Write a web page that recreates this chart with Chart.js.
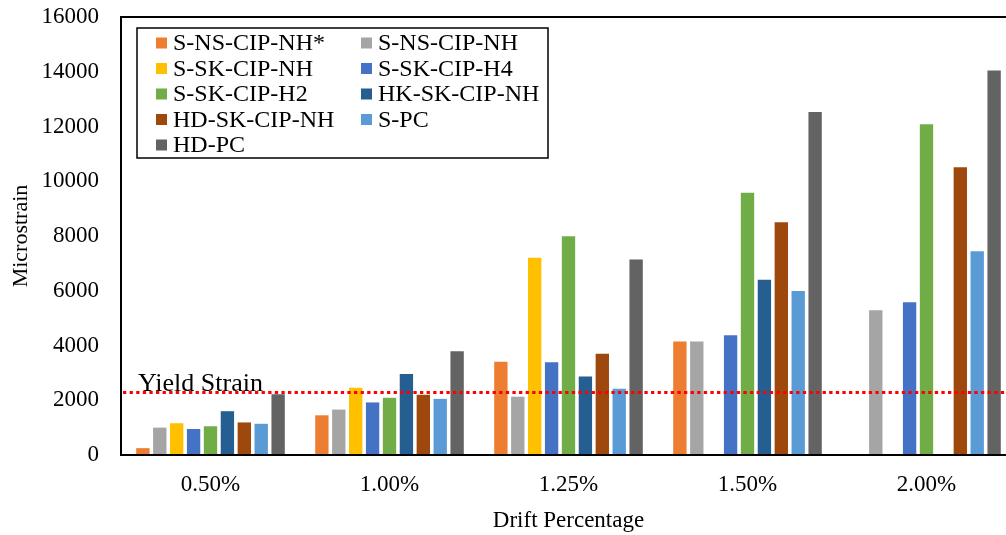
<!DOCTYPE html>
<html>
<head>
<meta charset="utf-8">
<script src="https://cdn.jsdelivr.net/npm/chart.js@4/dist/chart.umd.min.js"></script>
<style>
  html, body { margin: 0; padding: 0; background: #fff; overflow: hidden; }
  #wrap { position: relative; width: 1020px; height: 535px; }
</style>
</head>
<body>
<div id="wrap"><canvas id="c"></canvas></div>
<script>
// Drift levels on the x axis
const driftLabels = ['0.50%', '1.00%', '1.25%', '1.50%', '2.00%'];

// Peak microstrain per specimen at each drift level (null = no reading)
const sNsCipNhStar = [250, 1450, 3410, 4150, null];
const sNsCipNh     = [1000, 1660, 2130, 4150, 5290];
const sSkCipNh     = [1160, 2460, 7210, null, null];
const sSkCipH4     = [950, 1920, 3390, 4370, 5580];
const sSkCipH2     = [1050, 2090, 7990, 9580, 12080];
const hkSkCipNh    = [1600, 2960, 2870, 6400, null];
const hdSkCipNh    = [1190, 2200, 3700, 8500, 10510];
const sPc          = [1140, 2050, 2420, 5990, 7440];
const hdPc         = [2220, 3790, 7140, 12530, 14050];

const seriesNames = ['S-NS-CIP-NH*', 'S-NS-CIP-NH', 'S-SK-CIP-NH', 'S-SK-CIP-H4',
  'S-SK-CIP-H2', 'HK-SK-CIP-NH', 'HD-SK-CIP-NH', 'S-PC', 'HD-PC'];
const seriesData = [sNsCipNhStar, sNsCipNh, sSkCipNh, sSkCipH4, sSkCipH2,
  hkSkCipNh, hdSkCipNh, sPc, hdPc];
const seriesColors = ['#ED7D31', '#A5A5A5', '#FFC000', '#4472C4', '#70AD47',
  '#255E91', '#9E480E', '#5B9BD5', '#636363'];

// Y axis ticks and the yield strain reference level
const yTicks = [0, 2000, 4000, 6000, 8000, 10000, 12000, 14000, 16000];
const yieldStrain = 2310;
const yieldLabel = 'Yield Strain';

const FONT = '"Liberation Serif", "Times New Roman", serif';

// Plot frame and dotted yield line with its caption
const framePlugin = {
  id: 'frame',
  afterDatasetsDraw(chart) {
    const { ctx, chartArea: a, scales: { y } } = chart;
    const yy = Math.round(y.getPixelForValue(yieldStrain)) + 0.5;
    ctx.save();
    ctx.strokeStyle = '#FF0000';
    ctx.lineWidth = 3;
    ctx.setLineDash([3.3, 3.3]);
    ctx.beginPath();
    ctx.moveTo(a.left + 2, yy);
    ctx.lineTo(a.right, yy);
    ctx.stroke();
    ctx.setLineDash([]);
    ctx.fillStyle = '#000';
    ctx.font = '26px ' + FONT;
    ctx.textBaseline = 'alphabetic';
    ctx.textAlign = 'left';
    ctx.fillText(yieldLabel, a.left + 17, yy - 2);
    // frame
    ctx.strokeStyle = '#000';
    ctx.lineWidth = 2;
    ctx.strokeRect(a.left, a.top, a.right - a.left, a.bottom - a.top);
    ctx.restore();
  }
};

// Two-column boxed legend inside the plot
const legendPlugin = {
  id: 'boxLegend',
  afterDraw(chart) {
    const { ctx } = chart;
    const box = { x: 137, y: 28, w: 411, h: 130 };
    ctx.save();
    ctx.fillStyle = '#fff';
    ctx.fillRect(box.x, box.y, box.w, box.h);
    ctx.strokeStyle = '#000';
    ctx.lineWidth = 1.5;
    ctx.strokeRect(box.x, box.y, box.w, box.h);
    ctx.font = '24px ' + FONT;
    ctx.textBaseline = 'middle';
    ctx.textAlign = 'left';
    const colX = [156, 361];
    const row0 = 43, rowStep = 25.5, sq = 11;
    chart.data.datasets.forEach((ds, i) => {
      const col = i % 2, row = Math.floor(i / 2);
      const cx = colX[col], cy = row0 + row * rowStep;
      ctx.fillStyle = ds.backgroundColor;
      ctx.fillRect(cx, cy - sq / 2, sq, sq);
      ctx.fillStyle = '#000';
      ctx.fillText(ds.label, cx + 17, cy + 1);
    });
    ctx.restore();
  }
};

new Chart(document.getElementById('c'), {
  type: 'bar',
  data: {
    labels: driftLabels,
    datasets: seriesNames.map((name, i) => ({
      label: name,
      data: seriesData[i],
      backgroundColor: seriesColors[i],
      borderWidth: 0,
      barPercentage: 0.79,
      categoryPercentage: 0.85
    }))
  },
  options: {
    responsive: true,
    maintainAspectRatio: false,
    devicePixelRatio: 1,
    animation: false,
    layout: { padding: { top: 17, right: 4, left: 0, bottom: 0 } },
    plugins: { legend: { display: false }, tooltip: { enabled: false } },
    scales: {
      x: {
        grid: { display: false, drawTicks: false },
        border: { display: false },
        ticks: { color: '#000', font: { family: FONT, size: 23 }, padding: 16, maxRotation: 0 },
        title: { display: true, text: 'Drift Percentage', color: '#000',
                 font: { family: FONT, size: 23 }, padding: { bottom: 0, top: 0 } },
        afterFit(s) { s.height = 80; s.paddingLeft = 0; s.paddingRight = 0; }
      },
      y: {
        min: 0, max: 16000,
        afterBuildTicks(s) { s.ticks = yTicks.map(v => ({ value: v })); },
        grid: { display: false, drawTicks: false },
        border: { display: false },
        ticks: { color: '#000', font: { family: FONT, size: 23 }, padding: 22,
                 callback: v => String(v) },
        title: { display: true, text: 'Microstrain', color: '#000',
                 font: { family: FONT, size: 22 }, padding: { top: 8, bottom: 0 } },
        afterFit(s) { s.width = 121; s.paddingTop = 0; s.paddingBottom = 0; }
      }
    }
  },
  plugins: [framePlugin, legendPlugin]
});
</script>
</body>
</html>
